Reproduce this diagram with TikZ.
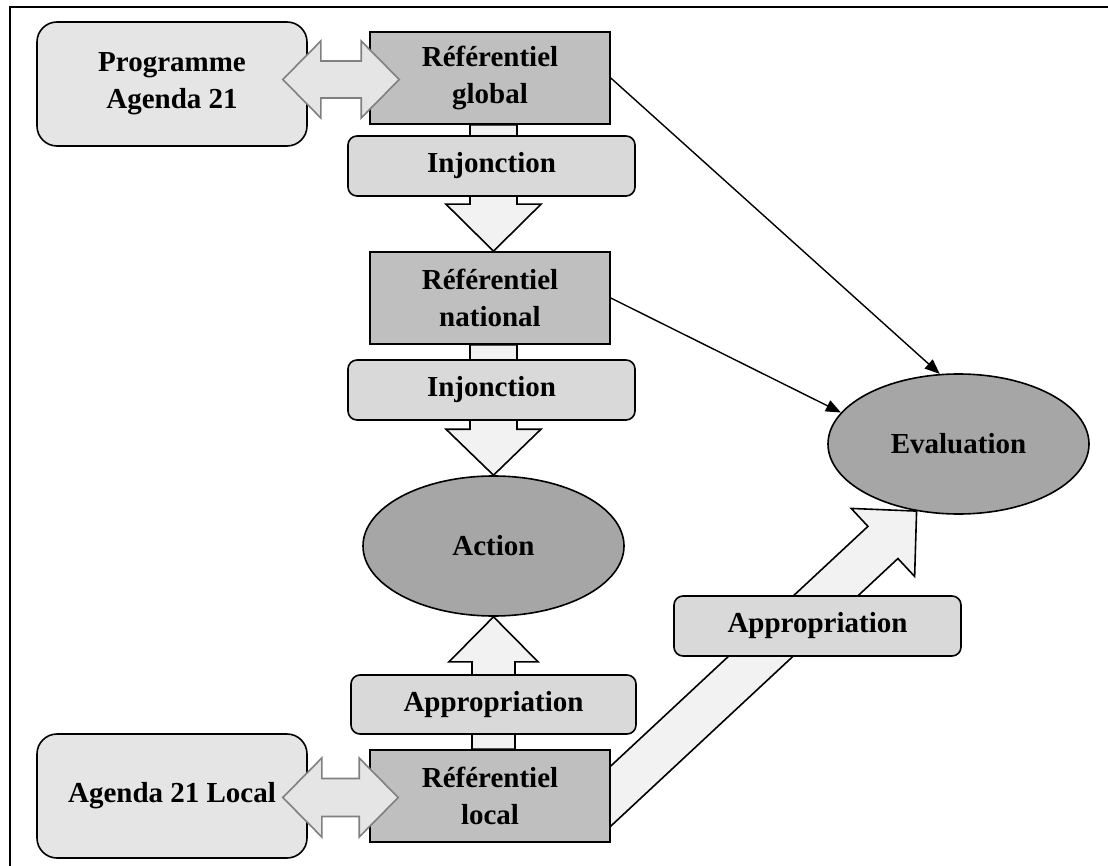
\documentclass[tikz,border=0pt]{standalone}
\usepackage{fontspec}
\setmainfont{Liberation Serif}
\usepackage{tikz}
\usetikzlibrary{shapes.geometric}
\usetikzlibrary{calc}
\usetikzlibrary{arrows.meta}
\usetikzlibrary{backgrounds}
\usepackage{xcolor}

% 块状箭头: [样式]{起点}{终点}{杆半宽}{头半宽}{头长}
\newcommand{\blkarrow}[6][]{%
  \path (#2) coordinate (ba-s) (#3) coordinate (ba-e);
  \path ($(ba-e)!#6!(ba-s)$) coordinate (ba-h);
  \filldraw[#1] ($(ba-s)!#4!90:(ba-e)$) -- ($(ba-h)!#4!-90:(ba-s)$) -- ($(ba-h)!#5!-90:(ba-s)$) -- (ba-e)
    -- ($(ba-h)!#5!90:(ba-s)$) -- ($(ba-h)!#4!90:(ba-s)$) -- ($(ba-s)!#4!-90:(ba-e)$) -- cycle;
}
% 双向块状箭头: [样式]{左尖}{右尖}{杆半宽}{头半宽}{头长}
\newcommand{\dblarrow}[6][]{%
  \path (#2) coordinate (da-a) (#3) coordinate (da-b);
  \path ($(da-a)!#6!(da-b)$) coordinate (da-ha) ($(da-b)!#6!(da-a)$) coordinate (da-hb);
  \filldraw[#1] (da-a) -- ($(da-ha)!#5!90:(da-b)$) -- ($(da-ha)!#4!90:(da-b)$) -- ($(da-hb)!#4!-90:(da-a)$)
    -- ($(da-hb)!#5!-90:(da-a)$) -- (da-b) -- ($(da-hb)!#5!90:(da-a)$) -- ($(da-hb)!#4!90:(da-a)$)
    -- ($(da-ha)!#4!-90:(da-b)$) -- ($(da-ha)!#5!-90:(da-b)$) -- cycle;
}

\begin{document}
\begin{tikzpicture}[x=1pt, y=-1pt]
        % ================= 样式定义 =================
        \tikzset{
            every node/.style={font=\fontsize{29}{37}\selectfont\bfseries, align=center, inner sep=0pt},
            % 参照系:灰色矩形
            refbox/.style={draw=black, line width=1.6pt, fill=black!25, minimum width=240pt, minimum height=92pt},
            % 程序框:大圆角
            progbox/.style={draw=black, line width=1.6pt, fill=black!10, rounded corners=20pt, minimum width=270pt, minimum height=124pt},
            % 箭头上的标签框
            tagbox/.style={draw=black, line width=1.6pt, fill=black!15, rounded corners=9pt, minimum width=287pt, minimum height=60pt},
            % 椭圆
            oval/.style={ellipse, draw=black, line width=1.6pt, fill=black!35, minimum width=261pt, minimum height=140pt},
            % 块状箭头
            arrowfill/.style={draw=black, fill=black!5, line width=1.6pt, line join=miter},
            swapfill/.style={draw=black!50, fill=black!10, line width=1.6pt, line join=miter},
            % 普通连线
            link/.style={line width=1.4pt, -{Triangle[length=15pt, width=12pt]}}
        }

        \useasboundingbox (0,0) rectangle (1108,866);
        % 外框(只见上边和左边)
        \draw[line width=2pt] (1110,7) -- (10,7) -- (10,868);

        % ================= 1. 节点 =================
        \node[progbox] (prog) at (172,84) {Programme\\Agenda 21};
        \node[refbox] (refglobal) at (490,78) {Référentiel\\global};
        \node[tagbox] (inj1) at (491.5,166) {Injonction};
        \node[refbox] (refnat) at (490,298) {Référentiel\\national};
        \node[tagbox] (inj2) at (491.5,390) {Injonction};
        \node[oval] (action) at (493.5,546) {Action};
        \node[tagbox, minimum width=285pt, minimum height=59pt] (approp1) at (493.5,704.5) {Appropriation};
        \node[refbox] (reflocal) at (490,796) {Référentiel\\local};
        \node[progbox] (local21) at (172,796) {Agenda 21 Local};
        \node[oval] (eval) at (958.5,444) {Evaluation};
        \node[tagbox] (approp2) at (817.5,626) {Appropriation};

        % ================= 2. 块状箭头(在标签框下面) =================
        \begin{pgfonlayer}{background}
            \blkarrow[arrowfill]{$(refglobal.south)+(3.5,0)$}{$(refnat.north)+(3.5,0)$}{23.5pt}{47.5pt}{47pt}
            \blkarrow[arrowfill]{$(refnat.south)+(3.5,0)$}{action.north}{23.5pt}{47.5pt}{46pt}
            \blkarrow[arrowfill]{$(reflocal.north)+(3.5,0)$}{action.south}{21.5pt}{44.5pt}{45pt}
            % 斜向箭头,从框内开始
            \blkarrow[arrowfill]{$(reflocal.east)+(-30,28)$}{eval.-122}{22pt}{46.5pt}{46pt}
        \end{pgfonlayer}

        % ================= 3. 双向箭头 =================
        \dblarrow[swapfill]{$(prog.east |- refglobal.west)+(-25,1.5)$}{$(refglobal.west)+(30,1.5)$}{18.5pt}{38.5pt}{38pt}
        \dblarrow[swapfill]{$(local21.east)+(-25,1.5)$}{$(reflocal.west)+(29,1.5)$}{19pt}{39.5pt}{39pt}

        % ================= 4. 到 Evaluation 的连线 =================
        \draw[link] (refglobal.east) -- (eval.105);
        \draw[link] (refnat.east) -- (eval.165);

    \end{tikzpicture}
\end{document}
